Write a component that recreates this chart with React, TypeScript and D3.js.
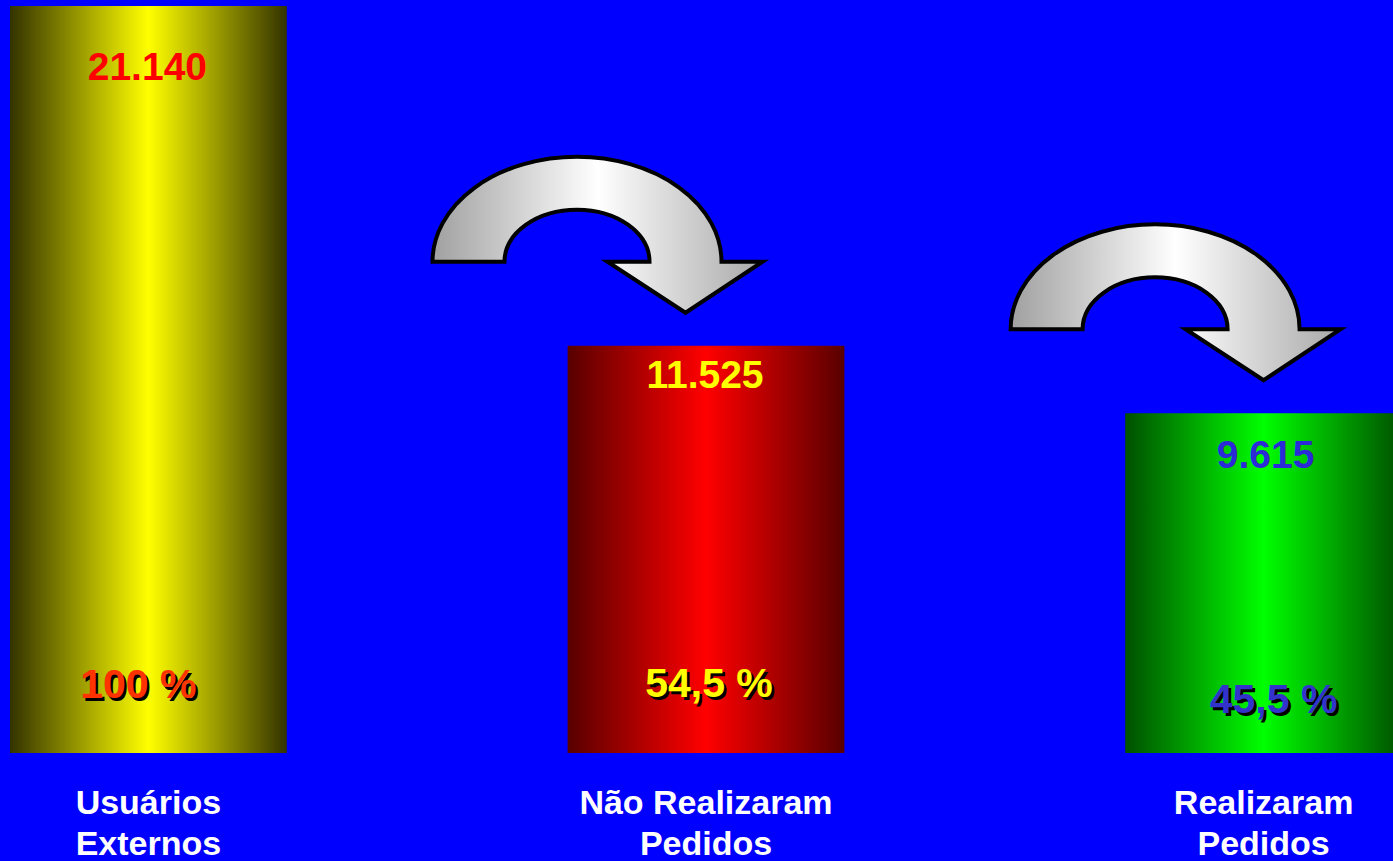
import React from "react";
import * as d3 from "d3";

// ---- data ----
const categories: string[][] = [
  ["Usuários", "Externos"],
  ["Não Realizaram", "Pedidos"],
  ["Realizaram", "Pedidos"],
];
const values: number[] = [21140, 11525, 9615];
const percents: number[] = [100, 54.5, 45.5];

// ---- styles / layout ----
const W = 1393;
const H = 861;
const barGrad = [
  { edge: "#333300", mid: "#ffff00" },
  { edge: "#580000", mid: "#ff0000" },
  { edge: "#005000", mid: "#00ff00" },
];
const valueColor = ["#ff0000", "#ffff00", "#2a2ad8"];
const pctColor = ["#ff3300", "#ffff00", "#3333cc"];
const valueDy = [74, 42, 55];
const valueDx = [-1, -1, 2];
const pctBaseline = [698, 697, 713];
const pctDx = [-10, 3, 10];
const arrowTipDx = [-20.5, 0];
const FONT = "'Liberation Sans', Arial, sans-serif";

const locale = d3.formatLocale({ decimal: ",", thousands: ".", grouping: [3], currency: ["R$", ""] });
const fmtValue = locale.format(",d");
const fmtPct = locale.format(".1~f");

function arrowPath(tipX: number, tipY: number): string {
  // geometry relative to the arrow tip
  const base = tipY - 51;
  const cx = tipX - 108.5;
  const Rx = 144.5, Ry = 105, rx = 72.5, ry = 52;
  const headL = tipX - 78, headR = tipX + 77;
  return [
    `M${cx - Rx},${base}`,
    `A${Rx},${Ry} 0 0 1 ${cx + Rx},${base}`,
    `L${headR},${base}`,
    `L${tipX},${tipY}`,
    `L${headL},${base}`,
    `L${cx + rx},${base}`,
    `A${rx},${ry} 0 0 0 ${cx - rx},${base}`,
    "Z",
  ].join(" ");
}

export default function App() {
  const keys = categories.map((c) => c.join(" "));
  const x = d3.scaleBand<string>().domain(keys).range([10, 1402]).paddingInner(0.5036).paddingOuter(0);
  const y = d3.scaleLinear().domain([0, values[0]]).range([753, 6]);
  const bw = x.bandwidth();

  return (
    <svg
      width={W}
      height={H}
      style={{ position: "fixed", left: 0, top: 0, display: "block" }}
      fontFamily={FONT}
      fontWeight="bold"
    >
      <defs>
        {barGrad.map((g, i) => (
          <linearGradient key={i} id={`bar${i}`} x1="0" x2="1" y1="0" y2="0">
            <stop offset="0" stopColor={g.edge} />
            <stop offset="0.5" stopColor={g.mid} />
            <stop offset="1" stopColor={g.edge} />
          </linearGradient>
        ))}
        <linearGradient id="arrowGrad" x1="0" x2="1" y1="0" y2="0">
          <stop offset="0" stopColor="#a0a0a0" />
          <stop offset="0.5" stopColor="#ffffff" />
          <stop offset="1" stopColor="#a8a8a8" />
        </linearGradient>
      </defs>
      <rect x={0} y={0} width={W} height={H} fill="#0000ff" />

      {values.map((v, i) => {
        const k = keys[i];
        const bx = x(k)!;
        const cx = bx + bw / 2;
        return (
          <g key={k}>
            <rect x={bx} y={y(v)} width={bw} height={y(0) - y(v)} fill={`url(#bar${i})`} />
            <text x={cx + valueDx[i]} y={y(v) + valueDy[i]} textAnchor="middle" fontSize={39} fill={valueColor[i]}>
              {fmtValue(v)}
            </text>
            <text x={cx + pctDx[i] + 2.5} y={pctBaseline[i] + 2.5} textAnchor="middle" fontSize={41} fill="#000">
              {fmtPct(percents[i]) + " %"}
            </text>
            <text x={cx + pctDx[i]} y={pctBaseline[i]} textAnchor="middle" fontSize={41} fill={pctColor[i]}>
              {fmtPct(percents[i]) + " %"}
            </text>
            {categories[i].map((line, j) => (
              <text key={j} x={cx} y={y(0) + 61 + j * 41} textAnchor="middle" fontSize={34} fill="#ffffff">
                {line}
              </text>
            ))}
          </g>
        );
      })}

      {values.slice(1).map((v, i) => {
        const next = keys[i + 1];
        const tipX = x(next)! + bw / 2 + arrowTipDx[i];
        const tipY = y(v) - 33;
        return (
          <path
            key={`arrow${i}`}
            d={arrowPath(tipX, tipY)}
            fill="url(#arrowGrad)"
            stroke="#000"
            strokeWidth={4}
            strokeLinejoin="miter"
          />
        );
      })}
    </svg>
  );
}
